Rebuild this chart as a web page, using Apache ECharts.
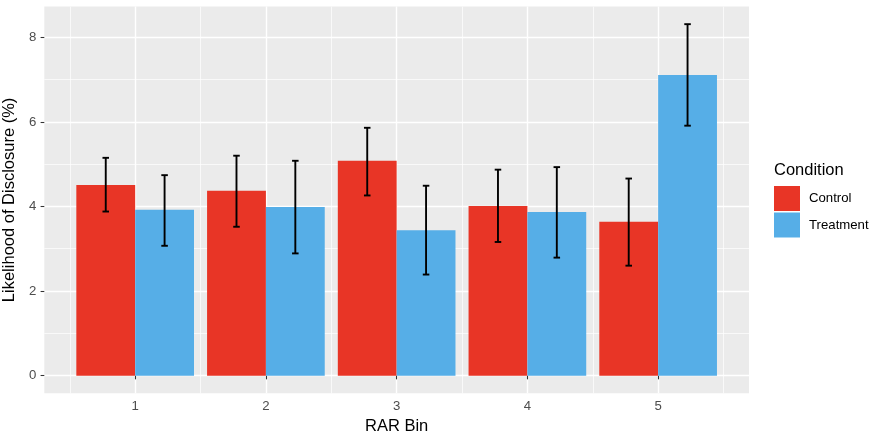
<!DOCTYPE html>
<html>
<head>
<meta charset="utf-8">
<script src="https://cdn.jsdelivr.net/npm/echarts@6/dist/echarts.min.js"></script>
<style>
  html, body { margin: 0; padding: 0; background: #fff; }
  #chart { width: 873px; height: 437px; }
</style>
</head>
<body>
<div id="chart"></div>
<script>
const bins = [1, 2, 3, 4, 5]
const conditions = ['Control', 'Treatment']
const controlMean = [4.51, 4.37, 5.08, 4.01, 3.64]
const controlLow = [3.88, 3.52, 4.26, 3.16, 2.60]
const controlHigh = [5.15, 5.20, 5.86, 4.87, 4.66]
const treatmentMean = [3.92, 3.99, 3.44, 3.87, 7.11]
const treatmentLow = [3.07, 2.89, 2.39, 2.79, 5.91]
const treatmentHigh = [4.74, 5.08, 4.49, 4.93, 8.31]
const yTicks = [0, 2, 4, 6, 8]
const yMinorTicks = [1, 3, 5, 7]
const xMinorTicks = [0.5, 1.5, 2.5, 3.5, 4.5, 5.5]

const RED = '#E83526'
const BLUE = '#56AEE7'
const FONT = '"Liberation Sans", Arial, sans-serif'

// ggplot-like dodge: total width 0.9, each bar 0.45
const barHalf = 0.225
const capHalf = 0.025

// ggplot default expansion (5% of data range)
const yTop = Math.max(...controlHigh, ...treatmentHigh)
const yMin = -0.05 * yTop
const yMax = yTop * 1.05
const xLo = bins[0] - 2 * barHalf
const xHi = bins[bins.length - 1] + 2 * barHalf
const xMin = xLo - 0.05 * (xHi - xLo)
const xMax = xHi + 0.05 * (xHi - xLo)

function makeRenderer(offset) {
  return function (params, api) {
    const x = api.value(0) + offset
    const m = api.value(1)
    const lo = api.value(2)
    const hi = api.value(3)
    const p0 = api.coord([x - barHalf, 0])
    const p1 = api.coord([x + barHalf, m])
    const cx = api.coord([x, 0])[0]
    const half = api.size([capHalf, 0])[0]
    const yHi = api.coord([x, hi])[1]
    const yLo = api.coord([x, lo])[1]
    const err = { stroke: '#000', lineWidth: 1.9 }
    return {
      type: 'group',
      children: [
        { type: 'rect', shape: { x: p0[0], y: p1[1], width: p1[0] - p0[0], height: p0[1] - p1[1] }, style: { fill: api.visual('color') } },
        { type: 'line', shape: { x1: cx, y1: yHi, x2: cx, y2: yLo }, style: err },
        { type: 'line', shape: { x1: cx - half, y1: yHi, x2: cx + half, y2: yHi }, style: err },
        { type: 'line', shape: { x1: cx - half, y1: yLo, x2: cx + half, y2: yLo }, style: err }
      ]
    }
  }
}

const chart = echarts.init(document.getElementById('chart'))

const tickLabel = { fontSize: 13.2, color: '#4D4D4D', fontFamily: FONT }
const titleText = { fontSize: 16.5, color: '#000', fontFamily: FONT }

const option = {
  animation: false,
  title: {
    text: 'Condition',
    left: 774,
    top: 162,
    padding: 0,
    textStyle: { ...titleText, fontWeight: 'normal' }
  },
  legend: {
    data: conditions,
    orient: 'vertical',
    left: 774,
    top: 186,
    itemWidth: 26,
    itemHeight: 25,
    itemGap: 1.5,
    icon: 'rect',
    padding: 0,
    textStyle: { fontSize: 13.2, color: '#000', fontFamily: FONT, padding: [0, 0, 0, 4] }
  },
  grid: {
    left: 44.3,
    right: 124,
    top: 6.6,
    bottom: 43.8,
    outerBoundsMode: 'none',
    containLabel: false,
    show: true,
    backgroundColor: '#EBEBEB',
    borderWidth: 0
  },
  xAxis: [
    {
      type: 'value',
      min: xMin,
      max: xMax,
      name: 'RAR Bin',
      nameLocation: 'middle',
      nameGap: 25,
      nameTextStyle: titleText,
      axisLine: { show: false },
      axisTick: { show: true, length: 3.7, customValues: bins, lineStyle: { color: '#333', width: 1.07 } },
      axisLabel: { ...tickLabel, margin: 7, customValues: bins },
      splitLine: { show: true, lineStyle: { color: '#fff', width: 1.4 } }
    },
    {
      type: 'value',
      min: xMin,
      max: xMax,
      position: 'bottom',
      axisLine: { show: false },
      axisTick: { show: false, customValues: xMinorTicks },
      axisLabel: { show: false },
      splitLine: { show: true, lineStyle: { color: '#fff', width: 0.7 } }
    }
  ],
  yAxis: [
    {
      type: 'value',
      min: yMin,
      max: yMax,
      name: 'Likelihood of Disclosure (%)',
      nameLocation: 'middle',
      nameGap: 22,
      nameTextStyle: titleText,
      axisLine: { show: false },
      axisTick: { show: true, length: 3.7, customValues: yTicks, lineStyle: { color: '#333', width: 1.07 } },
      axisLabel: { ...tickLabel, margin: 8, customValues: yTicks },
      splitLine: { show: true, lineStyle: { color: '#fff', width: 1.4 } }
    },
    {
      type: 'value',
      min: yMin,
      max: yMax,
      position: 'left',
      axisLine: { show: false },
      axisTick: { show: false, customValues: yMinorTicks },
      axisLabel: { show: false },
      splitLine: { show: true, lineStyle: { color: '#fff', width: 0.7 } }
    }
  ],
  series: [
    {
      name: 'Control',
      type: 'custom',
      xAxisIndex: 0,
      yAxisIndex: 0,
      itemStyle: { color: RED },
      renderItem: makeRenderer(-barHalf),
      encode: { x: 0, y: [1, 2, 3] },
      data: bins.map((b, i) => [b, controlMean[i], controlLow[i], controlHigh[i]])
    },
    {
      name: 'Treatment',
      type: 'custom',
      xAxisIndex: 0,
      yAxisIndex: 0,
      itemStyle: { color: BLUE },
      renderItem: makeRenderer(barHalf),
      encode: { x: 0, y: [1, 2, 3] },
      data: bins.map((b, i) => [b, treatmentMean[i], treatmentLow[i], treatmentHigh[i]])
    }
  ]
}

chart.setOption(option)
</script>
</body>
</html>
